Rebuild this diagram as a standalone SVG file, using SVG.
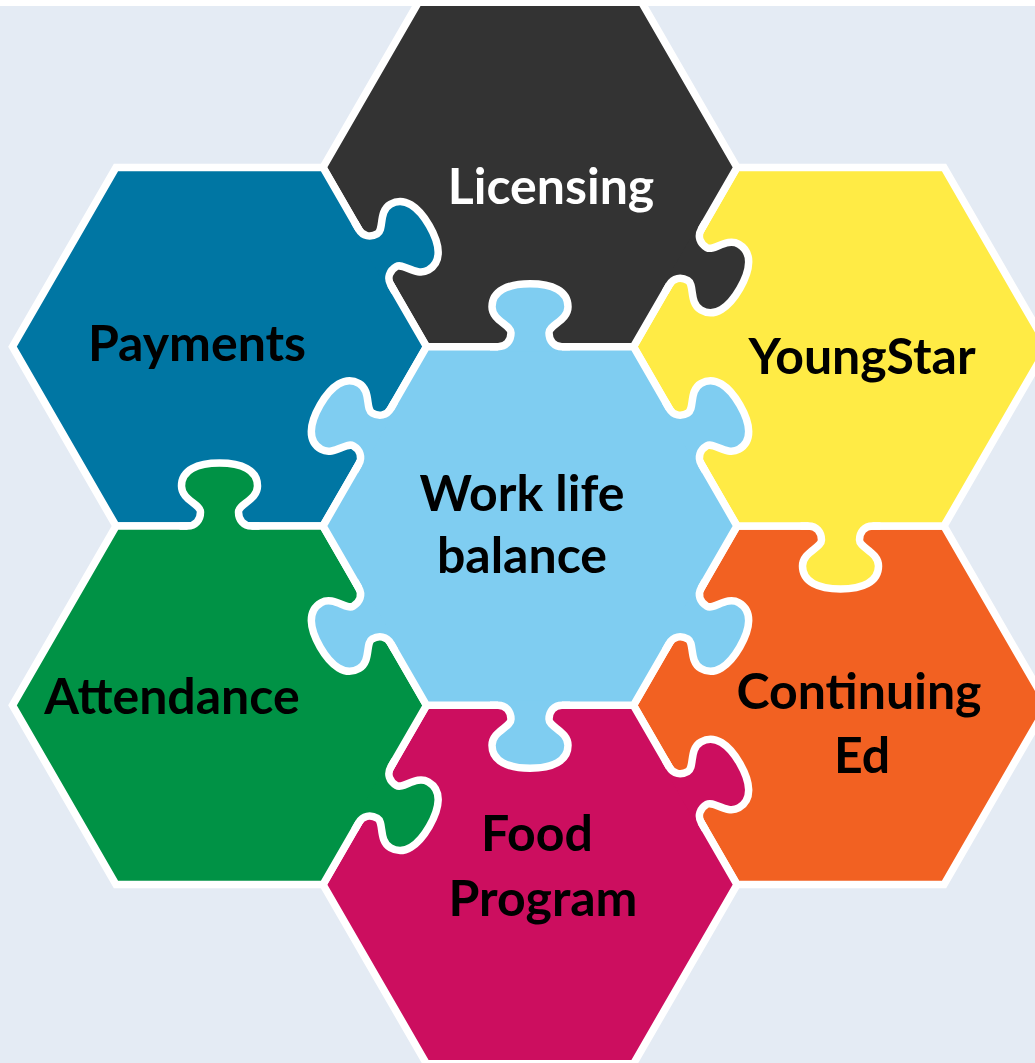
<svg xmlns="http://www.w3.org/2000/svg" xmlns:xlink="http://www.w3.org/1999/xlink" width="1035" height="1063" viewBox="0 0 1035 1063">
  <defs>
    <style>
      .hex { stroke: #ffffff; stroke-width: 7.5; stroke-linejoin: miter; }
      .knob-line { fill: none; stroke: #ffffff; stroke-width: 7.5; stroke-linejoin: round; }
      .label { font-family: Lato, "Liberation Sans", sans-serif; font-weight: 700; font-size: 50px; text-anchor: middle; fill: #000000; }
      .label-light { fill: #ffffff; }
    </style>
    <!-- puzzle tab, centred on an edge lying on the x axis, bulging towards -y -->
    <path id="knob-fill" d="M -32,0 C -24,0 -19,-6 -19,-14 C -19,-22 -38,-26 -38,-40 C -38,-56 -22,-63 0,-63 C 22,-63 38,-56 38,-40 C 38,-26 19,-22 19,-14 C 19,-6 24,0 32,0 L 32,5 L -32,5 Z"/>
    <path id="knob-line" d="M -40,0 L -32,0 C -24,0 -19,-6 -19,-14 C -19,-22 -38,-26 -38,-40 C -38,-56 -22,-63 0,-63 C 22,-63 38,-56 38,-40 C 38,-26 19,-22 19,-14 C 19,-6 24,0 32,0 L 40,0"/>
  </defs>

  <!-- backdrop -->
  <rect x="0" y="0" width="1035" height="1063" fill="#e4ebf4"/>

  <g id="continuing-ed">
    <polygon class="hex" fill="#f26122" points="1047.5,705.26 944,884.52 737,884.52 633.5,705.26 737,526 944,526"/>
    <text class="label" x="859" y="709">Continuing</text>
    <text class="label" x="862" y="773">Ed</text>
  </g>

  <g id="youngstar">
    <polygon class="hex" fill="#ffeb45" points="1047.5,346.74 944,526 737,526 633.5,346.74 737,167.48 944,167.48"/>
    <use xlink:href="#knob-fill" fill="#ffeb45" transform="translate(840.5,526) rotate(180)"/>
    <use xlink:href="#knob-line" class="knob-line" transform="translate(840.5,526) rotate(180)"/>
    <text class="label" x="862" y="374">YoungStar</text>
  </g>

  <g id="licensing">
    <polygon class="hex" fill="#333333" points="737,167.48 633.5,346.74 426.5,346.74 323,167.48 426.5,-11.78 633.5,-11.78"/>
    <use xlink:href="#knob-fill" fill="#333333" transform="translate(685.25,257.11) rotate(120)"/>
    <use xlink:href="#knob-line" class="knob-line" transform="translate(685.25,257.11) rotate(120)"/>
    <text class="label label-light" x="551" y="204">Licensing</text>
  </g>

  <g id="payments">
    <polygon class="hex" fill="#0076a3" points="426.5,346.74 323,526 116,526 12.5,346.74 116,167.48 323,167.48"/>
    <use xlink:href="#knob-fill" fill="#0076a3" transform="translate(374.75,257.11) rotate(60)"/>
    <use xlink:href="#knob-line" class="knob-line" transform="translate(374.75,257.11) rotate(60)"/>
    <text class="label" x="197" y="361">Payments</text>
  </g>

  <g id="food-program">
    <polygon class="hex" fill="#cc0e5f" points="737,884.52 633.5,1063.78 426.5,1063.78 323,884.52 426.5,705.26 633.5,705.26"/>
    <use xlink:href="#knob-fill" fill="#cc0e5f" transform="translate(685.25,794.89) rotate(60)"/>
    <use xlink:href="#knob-line" class="knob-line" transform="translate(685.25,794.89) rotate(60)"/>
    <text class="label" x="537" y="851">Food</text>
    <text class="label" x="543" y="916">Program</text>
  </g>

  <g id="attendance">
    <polygon class="hex" fill="#009245" points="426.5,705.26 323,884.52 116,884.52 12.5,705.26 116,526 323,526"/>
    <use xlink:href="#knob-fill" fill="#009245" transform="translate(374.75,794.89) rotate(120)"/>
    <use xlink:href="#knob-line" class="knob-line" transform="translate(374.75,794.89) rotate(120)"/>
    <use xlink:href="#knob-fill" fill="#009245" transform="translate(219.5,526) rotate(0)"/>
    <use xlink:href="#knob-line" class="knob-line" transform="translate(219.5,526) rotate(0)"/>
    <text class="label" x="172" y="714">Attendance</text>
  </g>

  <g id="work-life-balance">
    <polygon class="hex" fill="#7fcdf1" points="737,526 633.5,705.26 426.5,705.26 323,526 426.5,346.74 633.5,346.74"/>
    <use xlink:href="#knob-fill" fill="#7fcdf1" transform="translate(530,346.74) rotate(0)"/>
    <use xlink:href="#knob-line" class="knob-line" transform="translate(530,346.74) rotate(0)"/>
    <use xlink:href="#knob-fill" fill="#7fcdf1" transform="translate(685.25,436.37) rotate(60)"/>
    <use xlink:href="#knob-line" class="knob-line" transform="translate(685.25,436.37) rotate(60)"/>
    <use xlink:href="#knob-fill" fill="#7fcdf1" transform="translate(685.25,615.63) rotate(120)"/>
    <use xlink:href="#knob-line" class="knob-line" transform="translate(685.25,615.63) rotate(120)"/>
    <use xlink:href="#knob-fill" fill="#7fcdf1" transform="translate(530,705.26) rotate(180)"/>
    <use xlink:href="#knob-line" class="knob-line" transform="translate(530,705.26) rotate(180)"/>
    <use xlink:href="#knob-fill" fill="#7fcdf1" transform="translate(374.75,615.63) rotate(240)"/>
    <use xlink:href="#knob-line" class="knob-line" transform="translate(374.75,615.63) rotate(240)"/>
    <use xlink:href="#knob-fill" fill="#7fcdf1" transform="translate(374.75,436.37) rotate(300)"/>
    <use xlink:href="#knob-line" class="knob-line" transform="translate(374.75,436.37) rotate(300)"/>
    <text class="label" x="522" y="511">Work life</text>
    <text class="label" x="522" y="573">balance</text>
  </g>

  <!-- white margin along the top edge -->
  <rect x="0" y="0" width="1035" height="6" fill="#ffffff"/>
</svg>
